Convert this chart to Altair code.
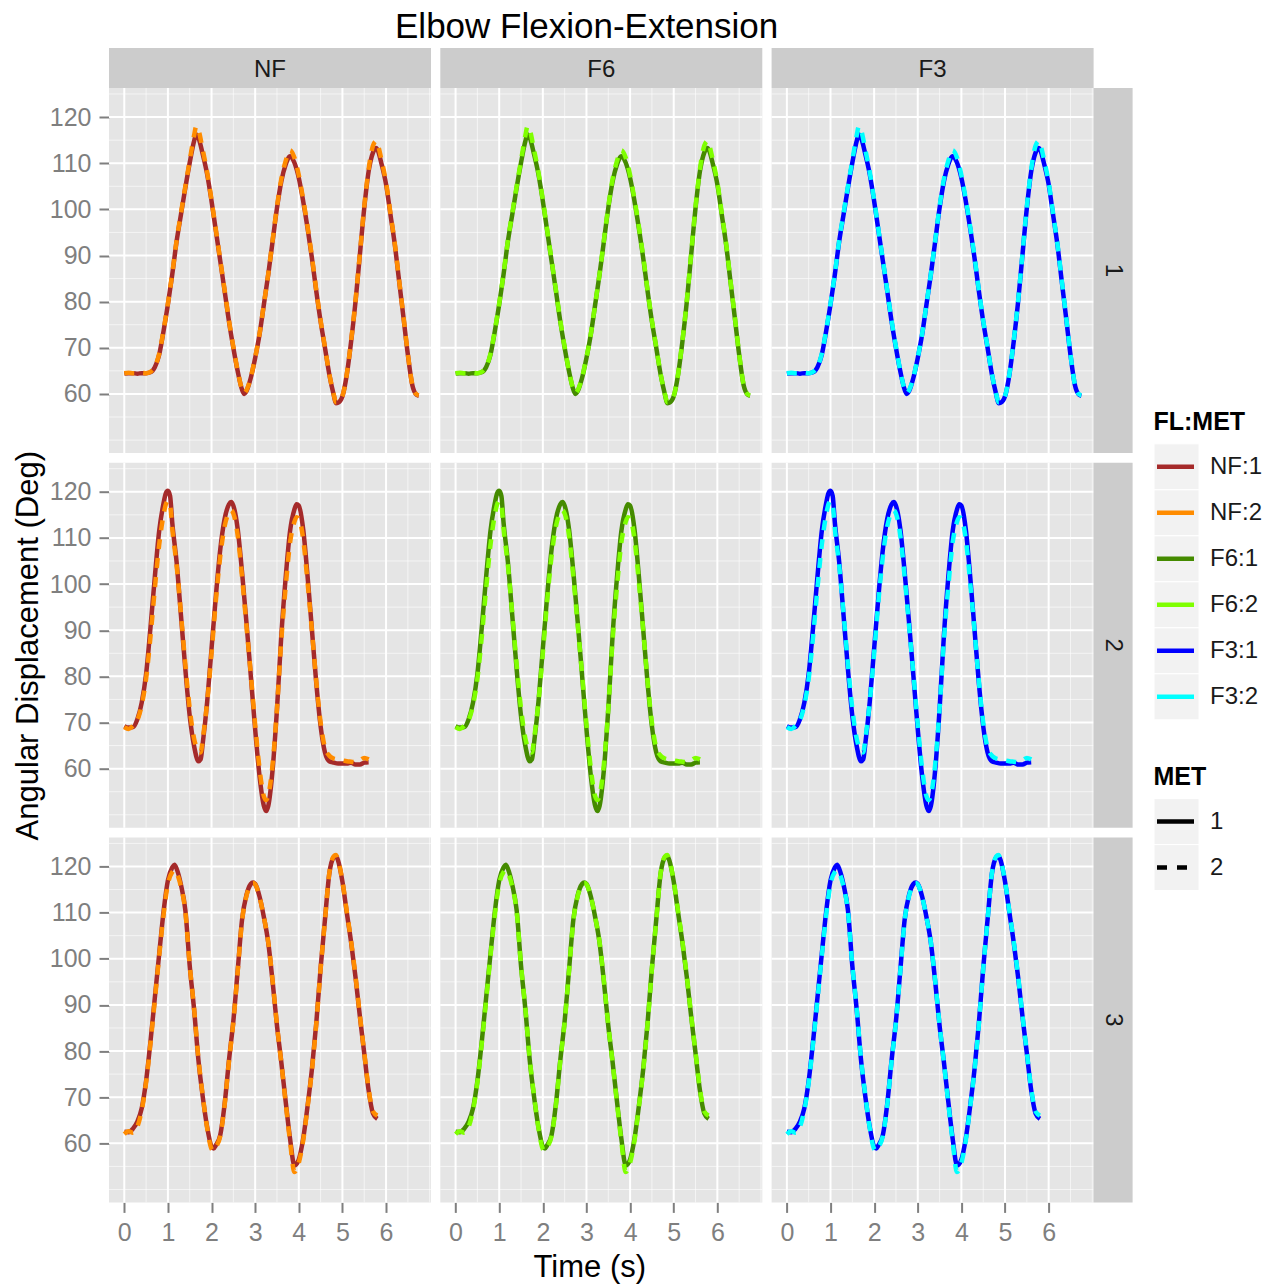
import altair as alt
import pandas as pd

FONT = "Liberation Sans"

TITLE = "Elbow Flexion-Extension"
X_TITLE = "Time (s)"
Y_TITLE = "Angular Displacement (Deg)"

FL_LEVELS = ["NF", "F6", "F3"]
TRIAL_LEVELS = ["1", "2", "3"]
MET_LEVELS = ["1", "2"]
KEYS = ["NF:1", "NF:2", "F6:1", "F6:2", "F3:1", "F3:2"]
KEY_COLORS = ["#A52A2A", "#FF8C00", "#458B00", "#7FFF00", "#0000FF", "#00FFFF"]

X_BREAKS = [0, 1, 2, 3, 4, 5, 6]
X_MINOR = [0.5, 1.5, 2.5, 3.5, 4.5, 5.5, 6.5, 7]
Y_BREAKS = [60, 70, 80, 90, 100, 110, 120]
Y_MINOR = [50, 55, 65, 75, 85, 95, 105, 115, 125]

# ---- trial 1 ----
TIME_1 = [0.0, 0.1, 0.2, 0.3, 0.4, 0.5, 0.6, 0.7, 0.8, 0.9, 1.0, 1.1, 1.2, 1.3, 1.4, 1.5, 1.6, 1.65,
          1.7, 1.8, 1.9, 2.0, 2.1, 2.2, 2.3, 2.4, 2.5, 2.6, 2.7, 2.75,
          2.8, 2.9, 3.0, 3.1, 3.2, 3.3, 3.4, 3.5, 3.6, 3.7, 3.8, 3.9, 4.0, 4.1, 4.2, 4.3, 4.4, 4.5, 4.6, 4.7, 4.8, 4.85,
          4.9, 5.0, 5.1, 5.2, 5.3, 5.4, 5.5, 5.6, 5.7, 5.77,
          5.8, 5.9, 6.0, 6.1, 6.2, 6.3, 6.4, 6.5, 6.6, 6.7, 6.75]
ANGLE_1_MET1 = [64.4, 64.5, 64.5, 64.4, 64.5, 64.5, 64.7, 65.8, 68.5, 73.6, 79.4, 85.9, 93.1, 98.9, 104.7, 110.1, 114.8, 116.2,
                115.5, 111.9, 107.6, 101.8, 95.3, 88.8, 82.3, 75.7, 70.0, 64.9, 60.9, 60.0,
                60.6, 63.5, 67.8, 72.9, 79.4, 85.9, 93.1, 100.3, 106.1, 109.7, 111.5, 110.1, 106.8, 101.8, 96.0, 89.5, 82.3, 75.7, 70.0, 64.2, 59.8, 58.0,
                58.1, 59.5, 64.2, 71.4, 80.0, 90.2, 100.3, 108.2, 112.3, 113.3,
                113.0, 109.7, 105.4, 98.9, 92.4, 84.4, 76.5, 68.5, 62.0, 59.8, 59.6]
ANGLE_1_MET2 = [64.5, 64.6, 64.5, 64.5, 64.6, 64.5, 64.8, 65.9, 68.7, 73.8, 79.6, 86.1, 93.3, 99.2, 105.0, 110.6, 116.0, 118.0,
                117.2, 112.8, 108.0, 102.0, 95.5, 89.0, 82.5, 75.9, 70.2, 65.0, 61.0, 60.2,
                60.8, 63.6, 67.9, 73.0, 79.5, 86.0, 93.3, 100.6, 106.6, 110.5, 112.8, 111.2, 107.4, 102.2, 96.3, 89.8, 82.5, 75.9, 70.1, 64.3, 59.9, 58.2,
                58.3, 59.6, 64.3, 71.6, 80.2, 90.4, 100.6, 108.7, 113.8, 114.8,
                114.3, 110.5, 105.8, 99.2, 92.6, 84.6, 76.7, 68.6, 62.1, 59.9, 59.7]

# ---- trial 2 ----
TIME_2 = [0.0, 0.1, 0.2, 0.3, 0.4, 0.5, 0.6, 0.7, 0.8, 0.9, 0.95, 1.0, 1.05,
          1.1, 1.2, 1.3, 1.4, 1.5, 1.6, 1.7, 1.75,
          1.8, 1.9, 2.0, 2.1, 2.2, 2.3, 2.4, 2.45,
          2.5, 2.6, 2.7, 2.8, 2.9, 3.0, 3.1, 3.2, 3.25,
          3.3, 3.4, 3.5, 3.6, 3.7, 3.8, 3.9, 3.95,
          4.0, 4.1, 4.2, 4.3, 4.4, 4.5, 4.6, 4.7, 4.8, 4.9, 5.0, 5.1, 5.2, 5.3, 5.4, 5.5, 5.6]
ANGLE_2_MET1 = [69.2, 68.9, 69.0, 70.7, 74.3, 80.5, 90.5, 101.5, 111.5, 117.5, 119.6, 120.2, 119.1,
                113.3, 104.7, 93.1, 81.5, 71.4, 64.9, 61.6, 62.0,
                65.6, 74.5, 86.0, 97.5, 107.5, 114.1, 117.3, 117.8,
                117.0, 111.9, 102.5, 91.7, 80.1, 68.5, 58.4, 51.9, 50.8,
                51.9, 59.8, 72.9, 89.0, 101.5, 111.5, 116.2, 117.3,
                117.0, 111.9, 101.8, 90.2, 78.6, 69.2, 63.5, 61.6, 61.3, 61.1, 61.1, 61.1, 61.3, 60.9, 60.9, 61.3, 61.4]
ANGLE_2_MET2 = [69.0, 68.6, 69.3, 70.5, 73.8, 79.5, 88.5, 99.0, 108.5, 115.0, 117.2, 118.0, 117.2,
                112.0, 104.0, 93.5, 82.5, 73.0, 66.5, 63.8, 63.5,
                66.5, 74.5, 85.0, 96.5, 106.0, 112.5, 115.5, 116.0,
                115.3, 110.5, 101.5, 91.0, 80.5, 69.5, 60.0, 54.0, 53.2,
                54.2, 61.0, 73.0, 88.0, 99.5, 109.0, 113.5, 114.5,
                114.2, 109.8, 100.5, 90.0, 79.0, 70.0, 64.5, 62.8, 62.2, 62.0, 61.8, 61.6, 61.5, 61.4, 61.8, 62.3, 62.0]

# ---- trial 3 ----
TIME_3 = [0.0, 0.1, 0.2, 0.3, 0.4, 0.5, 0.6, 0.7, 0.8, 0.9, 1.0, 1.1, 1.15,
          1.2, 1.3, 1.4, 1.5, 1.6, 1.7, 1.8, 1.9, 2.0, 2.05,
          2.1, 2.2, 2.3, 2.4, 2.5, 2.6, 2.7, 2.8, 2.9, 2.95,
          3.0, 3.1, 3.2, 3.3, 3.4, 3.5, 3.6, 3.7, 3.8, 3.9, 4.0, 4.1, 4.2, 4.3, 4.4, 4.5, 4.6, 4.7, 4.8, 4.85,
          4.9, 5.0, 5.1, 5.2, 5.3, 5.4, 5.5, 5.6, 5.7, 5.8]
ANGLE_3_MET1 = [62.5, 62.4, 63.2, 64.7, 67.6, 73.5, 82.0, 91.5, 101.0, 110.2, 117.0, 119.8, 120.4,
                119.5, 116.0, 110.5, 98.5, 89.0, 78.0, 70.0, 63.5, 59.3, 58.9,
                59.6, 61.8, 68.5, 78.0, 86.5, 97.5, 108.5, 113.8, 116.2, 116.5,
                116.2, 113.5, 109.0, 103.5, 95.0, 85.5, 77.5, 69.0, 61.0, 55.2, 56.5, 61.0, 68.0, 76.0, 86.0, 98.0, 108.5, 118.5, 122.0, 122.3,
                121.3, 116.7, 110.0, 103.5, 96.0, 87.5, 79.5, 71.5, 66.5, 65.3]
ANGLE_3_MET2 = [62.0, 62.6, 62.3, 63.6, 67.2, 73.2, 81.6, 91.0, 100.6, 109.5, 116.2, 118.8, 119.2,
                118.6, 115.6, 110.2, 98.6, 89.2, 78.3, 70.2, 63.3, 58.8, 58.4,
                59.2, 61.6, 68.3, 77.8, 86.3, 97.3, 108.3, 113.6, 116.0, 116.4,
                116.1, 113.4, 109.0, 103.6, 95.2, 85.6, 77.4, 68.7, 60.4, 53.8, 55.8, 60.6, 67.8, 75.8, 85.8, 97.8, 108.4, 118.6, 122.2, 122.5,
                121.4, 116.8, 110.2, 103.7, 96.2, 87.7, 79.7, 71.8, 66.9, 66.0]

TRIALS = {
    "1": (TIME_1, ANGLE_1_MET1, ANGLE_1_MET2),
    "2": (TIME_2, ANGLE_2_MET1, ANGLE_2_MET2),
    "3": (TIME_3, ANGLE_3_MET1, ANGLE_3_MET2),
}

# ---- layout / style ----
PANEL_W = 322
PANEL_H = 365
STRIP_H = 40
RSTRIP_W = 39
X_DOMAIN = [-0.35, 7.03]
Y_DOMAIN = [47.2, 126.3]
PANEL_BG = "#E5E5E5"
STRIP_BG = "#CCCCCC"
LINE_W = 4.5
DASH = [10, 9]

AXIS_STYLE = dict(
    grid=False, domain=False, ticks=True, tickSize=10, tickWidth=2, tickColor="#7F7F7F",
    labelFontSize=25, labelColor="#7F7F7F", labelFont=FONT, labelPadding=8,
    titleFontSize=31, titleFont=FONT, titleFontWeight="normal", titleColor="black",
)


def make_panel(ti, fi):
    trial = TRIAL_LEVELS[ti]
    fl = FL_LEVELS[fi]
    times, m1, m2 = TRIALS[trial]
    n = len(times)
    df = pd.DataFrame({
        "t": list(times) + list(times),
        "deg": list(m1) + list(m2),
        "MET": ["1"] * n + ["2"] * n,
        "key": [fl + ":1"] * n + [fl + ":2"] * n,
    })
    xs = alt.Scale(domain=X_DOMAIN, nice=False, zero=False)
    ys = alt.Scale(domain=Y_DOMAIN, nice=False, zero=False)
    if ti == 2:
        if fi == 1:
            xaxis = alt.Axis(values=X_BREAKS, title=X_TITLE, titlePadding=7, titleX=PANEL_W / 2 - 12, **AXIS_STYLE)
        else:
            xaxis = alt.Axis(values=X_BREAKS, title=None, **AXIS_STYLE)
    else:
        xaxis = None
    if fi == 0:
        yaxis = alt.Axis(values=Y_BREAKS, title=(Y_TITLE if ti == 1 else None), titlePadding=5, **AXIS_STYLE)
    else:
        yaxis = None

    def X(f):
        return alt.X(f, scale=xs, axis=xaxis)

    def Y(f):
        return alt.Y(f, scale=ys, axis=yaxis)

    minor_v = alt.Chart(pd.DataFrame({"v": X_MINOR})).mark_rule(color="white", strokeWidth=1, opacity=0.6).encode(x=X("v:Q"))
    minor_h = alt.Chart(pd.DataFrame({"v": Y_MINOR})).mark_rule(color="white", strokeWidth=1, opacity=0.6).encode(y=Y("v:Q"))
    major_v = alt.Chart(pd.DataFrame({"v": X_BREAKS})).mark_rule(color="white", strokeWidth=2).encode(x=X("v:Q"))
    major_h = alt.Chart(pd.DataFrame({"v": Y_BREAKS})).mark_rule(color="white", strokeWidth=2).encode(y=Y("v:Q"))

    color = alt.Color("key:N", scale=alt.Scale(domain=KEYS, range=KEY_COLORS), legend=None)
    base = alt.Chart(df).encode(x=X("t:Q"), y=Y("deg:Q"), color=color)
    line1 = base.transform_filter(alt.datum.MET == "1").mark_line(
        strokeWidth=LINE_W, interpolate="monotone", strokeJoin="round")
    line2 = base.transform_filter(alt.datum.MET == "2").mark_line(
        strokeWidth=LINE_W, interpolate="monotone", strokeJoin="round", strokeDash=DASH)

    layers = [minor_v, minor_h, major_v, major_h, line1, line2]

    if ti == 0:
        sdf = pd.DataFrame({"lab": [fl]})
        layers.append(alt.Chart(sdf).mark_rect(fill=STRIP_BG).encode(
            x=alt.value(0), x2=alt.value(PANEL_W), y=alt.value(-STRIP_H), y2=alt.value(0)))
        layers.append(alt.Chart(sdf).mark_text(font=FONT, fontSize=24, color="#1A1A1A", baseline="middle").encode(
            x=alt.value(PANEL_W / 2), y=alt.value(-STRIP_H / 2 + 2), text="lab:N"))
    if fi == 2:
        rdf = pd.DataFrame({"lab": [trial]})
        layers.append(alt.Chart(rdf).mark_rect(fill=STRIP_BG).encode(
            x=alt.value(PANEL_W), x2=alt.value(PANEL_W + RSTRIP_W), y=alt.value(0), y2=alt.value(PANEL_H)))
        layers.append(alt.Chart(rdf).mark_text(font=FONT, fontSize=24, color="#1A1A1A", angle=90, baseline="middle").encode(
            x=alt.value(PANEL_W + RSTRIP_W / 2), y=alt.value(PANEL_H / 2), text="lab:N"))

    return alt.layer(*layers).properties(
        width=PANEL_W, height=PANEL_H, view=alt.ViewBackground(fill=PANEL_BG, strokeWidth=0))


panels = [make_panel(ti, fi) for ti in range(3) for fi in range(3)]
grid = alt.concat(*panels, columns=3, spacing={"row": 9.7, "column": 9.3}, bounds="flush")

# ---- legends ----
LEG_KEY = 46


def legend_block(title, labels, colors, dashes):
    df = pd.DataFrame({"lab": labels, "col": colors})
    y = alt.Y("lab:N", sort=labels, axis=None, scale=alt.Scale(paddingInner=0, paddingOuter=0))
    base = alt.Chart(df).encode(y=y)
    box = base.mark_rect(fill="#F2F2F2", stroke="white", strokeWidth=1).encode(x=alt.value(0), x2=alt.value(45))
    segs = []
    for lab, dash in zip(labels, dashes):
        mark_kw = dict(strokeWidth=LINE_W)
        if dash is not None:
            mark_kw["strokeDash"] = dash
        segs.append(
            base.transform_filter(alt.datum.lab == lab).mark_rule(**mark_kw).encode(
                x=alt.value(3), x2=alt.value(40), color=alt.Color("col:N", scale=None, legend=None))
        )
    txt = base.mark_text(align="left", baseline="middle", font=FONT, fontSize=24, color="#1A1A1A").encode(
        x=alt.value(56), text="lab:N")
    return alt.layer(box, *segs, txt).properties(
        width=115, height=LEG_KEY * len(labels),
        title=alt.TitleParams(title, anchor="start", font=FONT, fontSize=25, fontWeight="bold",
                              color="black", offset=8),
    )


leg_fl = legend_block("FL:MET", KEYS, KEY_COLORS, [None] * 6)
leg_met = legend_block("MET", MET_LEVELS, ["black", "black"], [None, [10, 10]])
spacer = alt.Chart(pd.DataFrame({"lab": [""]})).mark_text().encode(text="lab:N").properties(width=115, height=276.5)
legend_col = alt.vconcat(spacer, leg_fl, leg_met, spacing=78.8, bounds="flush")

chart = alt.hconcat(grid, legend_col, spacing=20).properties(
    title=alt.TitleParams(TITLE, font=FONT, fontSize=35, fontWeight="normal", color="black",
                          anchor="middle", offset=3, dx=-54),
    padding={"left": 12, "top": 10, "right": 5, "bottom": 5},
).configure(font=FONT).configure_view(strokeWidth=0)

chart.save("out.html", embed_options={"renderer": "svg", "actions": False})
